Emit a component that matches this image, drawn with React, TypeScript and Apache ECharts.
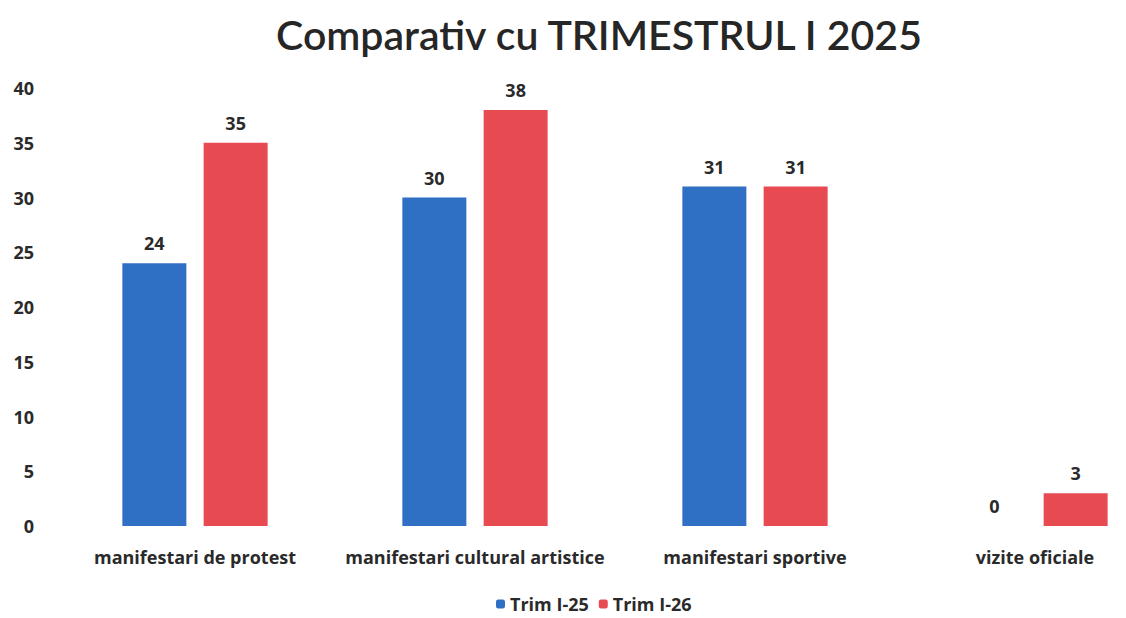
import React, { useEffect, useRef } from "react";
import * as echarts from "echarts";

const categories = [
  "manifestari de protest",
  "manifestari cultural artistice",
  "manifestari sportive",
  "vizite oficiale",
];
const trim25 = [24, 30, 31, 0];
const trim26 = [35, 38, 31, 3];
const seriesNames = ["Trim I-25", "Trim I-26"];
const yTicks = { min: 0, max: 40, interval: 5 };

export default function App() {
  const ref = useRef<HTMLDivElement>(null);
  useEffect(() => {
    if (!ref.current) return;
    const chart = echarts.init(ref.current, undefined, { renderer: "svg" });
    const titleFont = "Lato, 'Noto Sans', sans-serif";
    const font = "'Open Sans', 'Noto Sans', sans-serif";
    const labelStyle = {
      show: true,
      position: "top",
      distance: 11,
      fontSize: 18,
      fontWeight: "bold",
      color: "#2a2a2a",
      fontFamily: font,
    };
    chart.setOption({
      animation: false,
      backgroundColor: "#ffffff",
      title: {
        text: "Comparativ cu TRIMESTRUL I 2025",
        left: 594,
        textAlign: "center",
        top: 9,
        textStyle: {
          fontSize: 41,
          fontWeight: 600,
          color: "#262626",
          fontFamily: titleFont,
        },
      },
      legend: {
        bottom: 0,
        left: 491,
        itemWidth: 9,
        itemHeight: 9,
        itemGap: 10,
        icon: "roundRect",
        textStyle: { fontSize: 18, fontWeight: "bold", color: "#2a2a2a", fontFamily: font },
        data: seriesNames,
      },
      grid: { left: 55, top: 88, right: 0, bottom: 92, containLabel: false },
      xAxis: {
        type: "category",
        data: categories,
        axisLine: { show: false },
        axisTick: { show: false },
        axisLabel: {
          interval: 0,
          fontSize: 18,
          fontWeight: "bold",
          color: "#2a2a2a",
          margin: 22,
          fontFamily: font,
        },
      },
      yAxis: {
        type: "value",
        min: yTicks.min,
        max: yTicks.max,
        interval: yTicks.interval,
        splitLine: { show: false },
        axisLine: { show: false },
        axisTick: { show: false },
        axisLabel: {
          fontSize: 18,
          fontWeight: "bold",
          color: "#2a2a2a",
          margin: 21,
          fontFamily: font,
        },
      },
      series: [
        {
          name: seriesNames[0],
          type: "bar",
          data: trim25,
          barWidth: 64,
          barGap: "27%",
          itemStyle: { color: "#2f6fc4" },
          label: labelStyle,
        },
        {
          name: seriesNames[1],
          type: "bar",
          data: trim26,
          barWidth: 64,
          barGap: "27%",
          itemStyle: { color: "#e84a52" },
          label: labelStyle,
        },
      ],
    });
    return () => chart.dispose();
  }, []);
  return (
    <div
      style={{
        position: "fixed",
        left: 0,
        top: 0,
        width: 1126,
        height: 618,
        overflow: "hidden",
        background: "#ffffff",
      }}
    >
      <div ref={ref} style={{ width: 1175, height: 618 }} />
    </div>
  );
}
